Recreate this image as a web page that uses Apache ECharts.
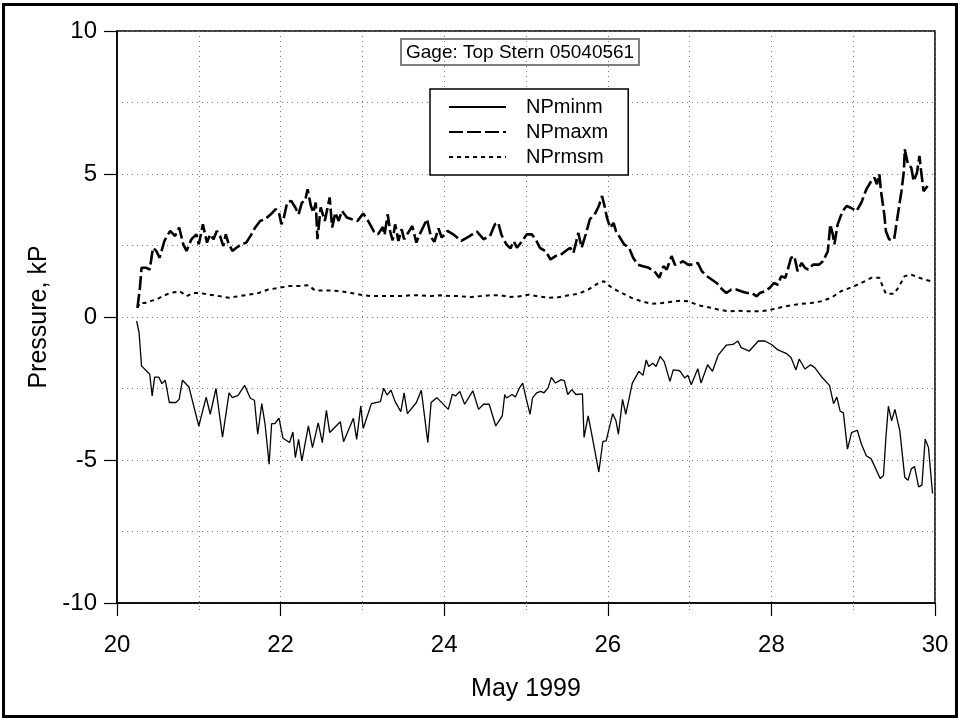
<!DOCTYPE html>
<html>
<head>
<meta charset="utf-8">
<script src="https://cdn.jsdelivr.net/npm/echarts@6/dist/echarts.min.js"></script>
<style>
  html, body { margin: 0; padding: 0; background: #fff; }
  #chart { width: 960px; height: 721px; }
</style>
</head>
<body>
<div id="chart"></div>
<script>
// Hull pressure gauge, top stern, 20-30 May 1999 (day of month, kPa)
const minDays = [20.24,20.27,20.30,20.40,20.43,20.46,20.51,20.55,20.59,20.64,20.72,20.76,20.80,20.88,21.00,21.09,21.14,21.21,21.29,21.37,21.41,21.48,21.56,21.63,21.68,21.72,21.77,21.81,21.86,21.89,21.93,21.98,22.03,22.11,22.15,22.18,22.22,22.26,22.34,22.39,22.46,22.51,22.56,22.60,22.73,22.77,22.89,22.93,22.98,23.01,23.11,23.22,23.26,23.30,23.35,23.40,23.47,23.51,23.55,23.66,23.72,23.80,23.84,23.91,24.05,24.10,24.14,24.19,24.25,24.35,24.42,24.48,24.55,24.63,24.71,24.74,24.76,24.83,24.87,24.92,24.96,25.00,25.05,25.08,25.13,25.18,25.22,25.27,25.31,25.36,25.43,25.47,25.51,25.56,25.61,25.69,25.71,25.76,25.80,25.89,25.94,25.98,26.06,26.10,26.13,26.18,26.22,26.30,26.38,26.43,26.47,26.50,26.55,26.59,26.64,26.69,26.76,26.80,26.88,26.94,26.98,27.02,27.10,27.14,27.22,27.28,27.35,27.45,27.53,27.59,27.63,27.73,27.84,27.92,28.01,28.08,28.18,28.24,28.30,28.34,28.41,28.48,28.53,28.61,28.71,28.76,28.80,28.84,28.88,28.93,28.98,29.05,29.10,29.16,29.22,29.33,29.37,29.40,29.43,29.47,29.51,29.57,29.63,29.67,29.71,29.75,29.80,29.84,29.88,29.92,29.97];
const minKPa = [-0.14,-0.55,-1.71,-2.00,-2.76,-2.10,-2.10,-2.33,-2.21,-2.99,-2.99,-2.88,-2.21,-2.45,-3.81,-2.80,-3.40,-2.50,-4.20,-2.65,-2.82,-2.74,-2.39,-2.84,-2.91,-4.10,-3.03,-3.75,-5.15,-3.73,-3.73,-3.54,-4.24,-4.39,-4.02,-4.92,-4.28,-5.03,-3.81,-4.57,-3.70,-4.39,-3.26,-4.04,-3.66,-4.36,-3.54,-4.28,-3.11,-3.90,-3.03,-2.96,-2.49,-2.73,-2.56,-2.96,-3.31,-2.65,-3.38,-2.99,-2.56,-4.39,-2.99,-2.82,-3.23,-2.70,-2.76,-2.60,-3.05,-2.58,-3.23,-3.05,-3.05,-3.81,-3.46,-2.71,-2.83,-2.71,-2.80,-2.48,-2.31,-2.83,-3.40,-2.83,-2.65,-2.60,-2.65,-2.48,-2.11,-2.31,-2.19,-2.23,-2.71,-2.54,-2.71,-2.69,-4.21,-3.46,-4.04,-5.42,-4.35,-4.33,-3.38,-3.63,-4.10,-2.88,-3.40,-2.31,-1.90,-2.04,-1.50,-1.73,-1.62,-1.73,-1.38,-1.56,-2.25,-1.85,-1.88,-2.13,-2.04,-2.37,-1.81,-2.31,-1.67,-1.90,-1.33,-0.98,-0.96,-0.84,-1.07,-1.19,-0.84,-0.84,-0.98,-1.15,-1.27,-1.42,-1.85,-1.47,-1.82,-1.67,-1.77,-2.08,-2.39,-3.03,-2.80,-3.29,-3.35,-4.62,-4.04,-3.96,-4.44,-4.85,-4.96,-5.65,-5.54,-4.21,-3.12,-3.63,-3.23,-3.98,-5.60,-5.71,-5.31,-5.23,-5.94,-5.88,-4.27,-4.56,-6.17];

const maxDays = [20.25,20.28,20.30,20.36,20.40,20.44,20.48,20.52,20.58,20.65,20.71,20.76,20.81,20.85,20.91,20.97,21.00,21.05,21.10,21.14,21.18,21.22,21.26,21.30,21.33,21.36,21.41,21.46,21.52,21.58,21.63,21.69,21.75,21.81,21.88,21.94,21.98,22.01,22.04,22.08,22.13,22.18,22.22,22.26,22.30,22.33,22.37,22.40,22.43,22.45,22.49,22.54,22.60,22.63,22.67,22.71,22.75,22.81,22.87,22.94,23.01,23.07,23.14,23.19,23.25,23.27,23.31,23.34,23.37,23.40,23.44,23.48,23.51,23.56,23.61,23.66,23.70,23.79,23.84,23.88,23.93,23.97,24.04,24.11,24.21,24.31,24.40,24.48,24.56,24.62,24.66,24.70,24.76,24.81,24.85,24.89,24.95,25.01,25.07,25.12,25.17,25.24,25.30,25.36,25.42,25.48,25.54,25.58,25.64,25.68,25.73,25.78,25.85,25.89,25.93,25.96,25.99,26.03,26.07,26.10,26.15,26.20,26.26,26.31,26.37,26.42,26.50,26.57,26.63,26.68,26.72,26.78,26.82,26.88,26.92,26.98,27.04,27.10,27.15,27.21,27.27,27.33,27.40,27.45,27.51,27.57,27.63,27.70,27.76,27.82,27.86,27.92,27.98,28.03,28.08,28.12,28.17,28.20,28.24,28.28,28.32,28.37,28.41,28.45,28.51,28.58,28.63,28.69,28.72,28.75,28.77,28.81,28.87,28.92,28.97,29.04,29.10,29.16,29.22,29.26,29.29,29.32,29.34,29.38,29.40,29.44,29.50,29.54,29.59,29.62,29.63,29.67,29.71,29.74,29.78,29.81,29.83,29.86,29.91];
const maxKPa = [0.32,1.02,1.72,1.72,1.66,2.42,2.31,2.07,2.66,3.01,2.83,3.13,2.54,2.31,2.72,2.89,2.54,3.24,2.60,2.89,2.72,3.01,2.83,2.48,2.89,2.60,2.31,2.42,2.54,2.60,2.83,3.13,3.36,3.42,3.59,3.77,3.65,3.24,3.48,4.00,4.06,3.83,3.59,4.00,4.06,4.47,3.89,3.65,4.00,2.72,3.83,3.36,4.18,3.13,3.65,3.36,3.71,3.48,3.42,3.36,3.62,3.36,2.99,2.89,3.15,2.87,3.59,2.99,2.68,3.24,2.66,3.07,2.72,2.95,3.18,2.60,2.89,3.42,2.78,2.63,3.10,2.78,3.01,2.89,2.66,2.83,2.99,2.72,2.83,3.24,3.30,2.87,2.54,2.40,2.65,2.42,2.65,2.89,2.89,2.71,2.42,2.30,2.01,2.13,2.16,2.30,2.42,2.24,2.94,2.42,2.89,3.41,3.64,3.88,4.23,3.88,3.47,3.12,3.29,3.00,2.77,2.54,2.42,2.07,1.83,1.78,1.72,1.60,1.37,1.78,1.66,2.13,1.83,1.89,1.95,1.83,1.83,1.89,1.60,1.43,1.31,1.19,0.96,0.84,0.96,0.96,0.90,0.84,0.84,0.72,0.84,0.90,1.02,1.19,1.13,1.43,1.37,1.66,2.07,2.13,1.60,1.89,1.72,1.66,1.83,1.83,1.95,2.30,3.24,2.89,2.54,3.24,3.70,3.88,3.82,3.70,4.00,4.46,4.75,4.87,4.64,4.99,4.40,3.59,3.00,2.71,2.71,3.47,4.40,5.11,5.86,5.34,5.22,4.75,5.05,5.63,5.11,4.40,4.58];

const rmsDays = [20.25,20.28,20.34,20.40,20.48,20.56,20.65,20.77,20.85,20.93,21.01,21.13,21.25,21.37,21.49,21.61,21.73,21.85,21.98,22.10,22.22,22.34,22.42,22.50,22.62,22.74,22.86,22.98,23.10,23.23,23.35,23.47,23.59,23.71,23.83,23.95,24.07,24.19,24.31,24.44,24.56,24.68,24.80,24.91,25.03,25.15,25.28,25.40,25.52,25.64,25.76,25.89,25.95,26.05,26.17,26.29,26.41,26.54,26.66,26.78,26.90,26.98,27.11,27.23,27.35,27.47,27.59,27.72,27.88,28.00,28.12,28.24,28.37,28.49,28.61,28.73,28.85,28.98,29.10,29.22,29.32,29.36,29.40,29.50,29.56,29.63,29.71,29.79,29.87,29.95];
const rmsKPa = [0.32,0.49,0.49,0.55,0.61,0.73,0.84,0.90,0.73,0.84,0.84,0.78,0.73,0.67,0.73,0.78,0.84,0.96,1.02,1.08,1.08,1.11,0.93,0.93,0.93,0.90,0.84,0.78,0.73,0.73,0.73,0.73,0.76,0.76,0.73,0.76,0.73,0.73,0.69,0.73,0.76,0.76,0.70,0.72,0.78,0.72,0.67,0.69,0.76,0.81,0.96,1.19,1.25,1.02,0.84,0.67,0.55,0.46,0.49,0.53,0.57,0.55,0.41,0.34,0.26,0.20,0.22,0.20,0.20,0.26,0.34,0.41,0.46,0.49,0.55,0.67,0.90,1.04,1.19,1.37,1.37,1.07,0.81,0.81,1.07,1.43,1.48,1.39,1.31,1.25];

const xTicks = [20, 22, 24, 26, 28, 30];
const yTicks = [-10, -5, 0, 5, 10];
const gaugeTitle = 'Gage: Top Stern 05040561';

const pairs = (xs, ys) => xs.map((x, i) => [x, ys[i]]);
const FONT = '"Liberation Sans", Arial, Helvetica, sans-serif';
const gridDots = { color: '#7a7a7a', width: 1, type: [1, 4] };

const chart = echarts.init(document.getElementById('chart'), null, { renderer: 'canvas' });
chart.setOption({
  animation: false,
  backgroundColor: '#ffffff',
  textStyle: { fontFamily: FONT, color: '#000' },
  grid: {
    left: 117, right: 25, top: 31, bottom: 118,
    show: true, borderColor: '#000', borderWidth: 1.5, backgroundColor: 'transparent'
  },
  title: {
    text: gaugeTitle,
    left: 401, top: 39,
    padding: [4, 5, 3, 5],
    borderColor: '#555', borderWidth: 1.5,
    textStyle: { fontFamily: FONT, fontSize: 19, fontWeight: 'normal', color: '#000' }
  },
  legend: {
    orient: 'vertical',
    left: 430, top: 89,
    padding: [8, 20, 8, 18],
    itemWidth: 57, itemHeight: 14, itemGap: 5,
    borderColor: '#000', borderWidth: 1.5,
    backgroundColor: '#fff',
    itemStyle: { opacity: 0 },
    textStyle: { fontFamily: FONT, fontSize: 20, color: '#000', padding: [0, 0, 0, 15] },
    data: ['NPminm', 'NPmaxm', 'NPrmsm']
  },
  xAxis: {
    type: 'value', min: xTicks[0], max: xTicks[xTicks.length - 1], interval: 2,
    name: 'May 1999', nameLocation: 'middle', nameGap: 74,
    nameTextStyle: { fontFamily: FONT, fontSize: 25, color: '#000' },
    axisLine: { show: true, onZero: false, lineStyle: { color: '#000', width: 1.5 } },
    axisTick: { show: true, inside: false, length: 13, lineStyle: { color: '#000', width: 1.2 } },
    minorTick: { show: true, splitNumber: 2, length: 8, lineStyle: { color: '#777', width: 1, type: [1, 2] } },
    axisLabel: { fontFamily: FONT, fontSize: 24, color: '#000', margin: 30 },
    splitLine: { show: true, lineStyle: gridDots },
    minorSplitLine: { show: true, lineStyle: gridDots }
  },
  yAxis: {
    type: 'value', min: yTicks[0], max: yTicks[yTicks.length - 1], interval: 5,
    name: 'Pressure, kP', nameLocation: 'middle', nameGap: 63, nameRotate: 90,
    nameTextStyle: { fontFamily: FONT, fontSize: 25, color: '#000' },
    axisLine: { show: true, onZero: false, lineStyle: { color: '#000', width: 1.5 } },
    axisTick: { show: true, inside: false, length: 13, lineStyle: { color: '#000', width: 1.2 } },
    minorTick: { show: false, splitNumber: 2 },
    axisLabel: { fontFamily: FONT, fontSize: 24, color: '#000', margin: 20 },
    splitLine: { show: true, lineStyle: gridDots },
    minorSplitLine: { show: true, lineStyle: gridDots }
  },
  series: [
    {
      name: 'NPminm', type: 'line', data: pairs(minDays, minKPa),
      symbol: 'none', showSymbol: false, smooth: false, z: 5,
      lineStyle: { color: '#000', width: 1.3, type: 'solid' },
      itemStyle: { color: '#000' }
    },
    {
      name: 'NPmaxm', type: 'line', data: pairs(maxDays, maxKPa),
      symbol: 'none', showSymbol: false, smooth: false, z: 5,
      lineStyle: { color: '#000', width: 2.6, type: [14, 4] },
      itemStyle: { color: '#000' }
    },
    {
      name: 'NPrmsm', type: 'line', data: pairs(rmsDays, rmsKPa),
      symbol: 'none', showSymbol: false, smooth: false, z: 5,
      lineStyle: { color: '#000', width: 2, type: [4, 4] },
      itemStyle: { color: '#000' }
    }
  ],
  graphic: [
    {
      type: 'rect', silent: true, z: 100,
      shape: { x: 3.5, y: 4.5, width: 953, height: 712 },
      style: { fill: 'none', stroke: '#000', lineWidth: 3 }
    }
  ]
});
</script>
</body>
</html>
